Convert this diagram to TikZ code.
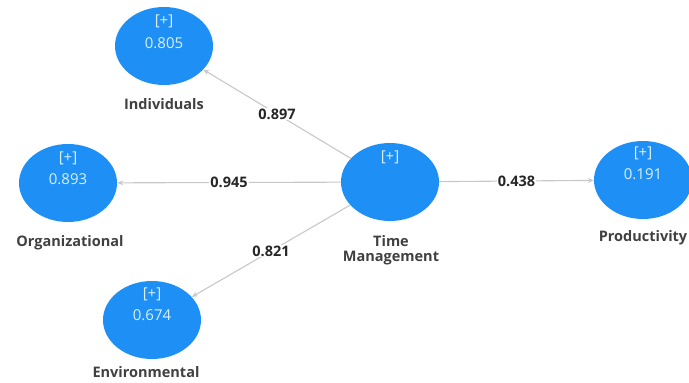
\documentclass[tikz,border=0pt]{standalone}
\usepackage{fontspec}
\setmainfont{Open Sans}
\usetikzlibrary{positioning,shapes.geometric,arrows.meta}
\definecolor{lvblue}{RGB}{30,144,245}
\definecolor{lvtext}{RGB}{215,240,255}
\definecolor{pathgray}{RGB}{200,200,200}

\begin{document}
\begin{tikzpicture}[x=1pt, y=-1pt,
  lv/.style={ellipse, fill=lvblue, minimum width=98pt, minimum height=78pt, inner sep=0pt},
  lvtxt/.style={text=lvtext, font=\fontsize{15}{17}\selectfont, inner sep=0pt},
  lvname/.style={font=\bfseries\fontsize{14.5}{15.5}\selectfont, text=black!75, align=center, inner sep=0pt},
  coef/.style={font=\bfseries\fontsize{14.5}{16}\selectfont, text=black!85, fill=white, inner sep=1pt},
  pathline/.style={draw=pathgray, line width=1.1pt, -{Stealth[length=6pt, width=5pt]}}]
\useasboundingbox (0,0) rectangle (689,383);
% constructs
\node[lv] (ind)  at (164,46)  {};
\node[lv] (org)  at (68,183)  {};
\node[lv] (tm)   at (390,182) {};
\node[lv] (prod) at (643,180) {};
\node[lv] (env)  at (152,320) {};
% [+] and R^2 inside
\node[lvtxt] (ind-p)  at (164,21)  {[+]};
\node[lvtxt] (ind-v)  at (164,43)  {0.805};
\node[lvtxt] (org-p)  at (68,158)  {[+]};
\node[lvtxt] (org-v)  at (68,179)  {0.893};
\node[lvtxt] (tm-p)   at (390,157) {[+]};
\node[lvtxt] (prod-p) at (643,153) {[+]};
\node[lvtxt] (prod-v) at (643,174) {0.191};
\node[lvtxt] (env-p)  at (152,294) {[+]};
\node[lvtxt] (env-v)  at (152,315) {0.674};
% names
\node[lvname] (ind-l)  at (164,104) {Individuals};
\node[lvname] (org-l)  at (70,243)  {Organizational};
\node[lvname] (tm-l)   at (391,250) {Time\\Management};
\node[lvname] (prod-l) at (643,238) {Productivity};
\node[lvname] (env-l)  at (146,372) {Environmental};
% paths
\draw[pathline] (tm) -- (ind)  node[coef, pos=0.5] {0.897};
\draw[pathline] (tm) -- (org)  node[coef, pos=0.5] {0.945};
\draw[pathline] (tm) -- (env)  node[coef, pos=0.5] {0.821};
\draw[pathline] (tm) -- (prod) node[coef, pos=0.5] {0.438};
\end{tikzpicture}
\end{document}
